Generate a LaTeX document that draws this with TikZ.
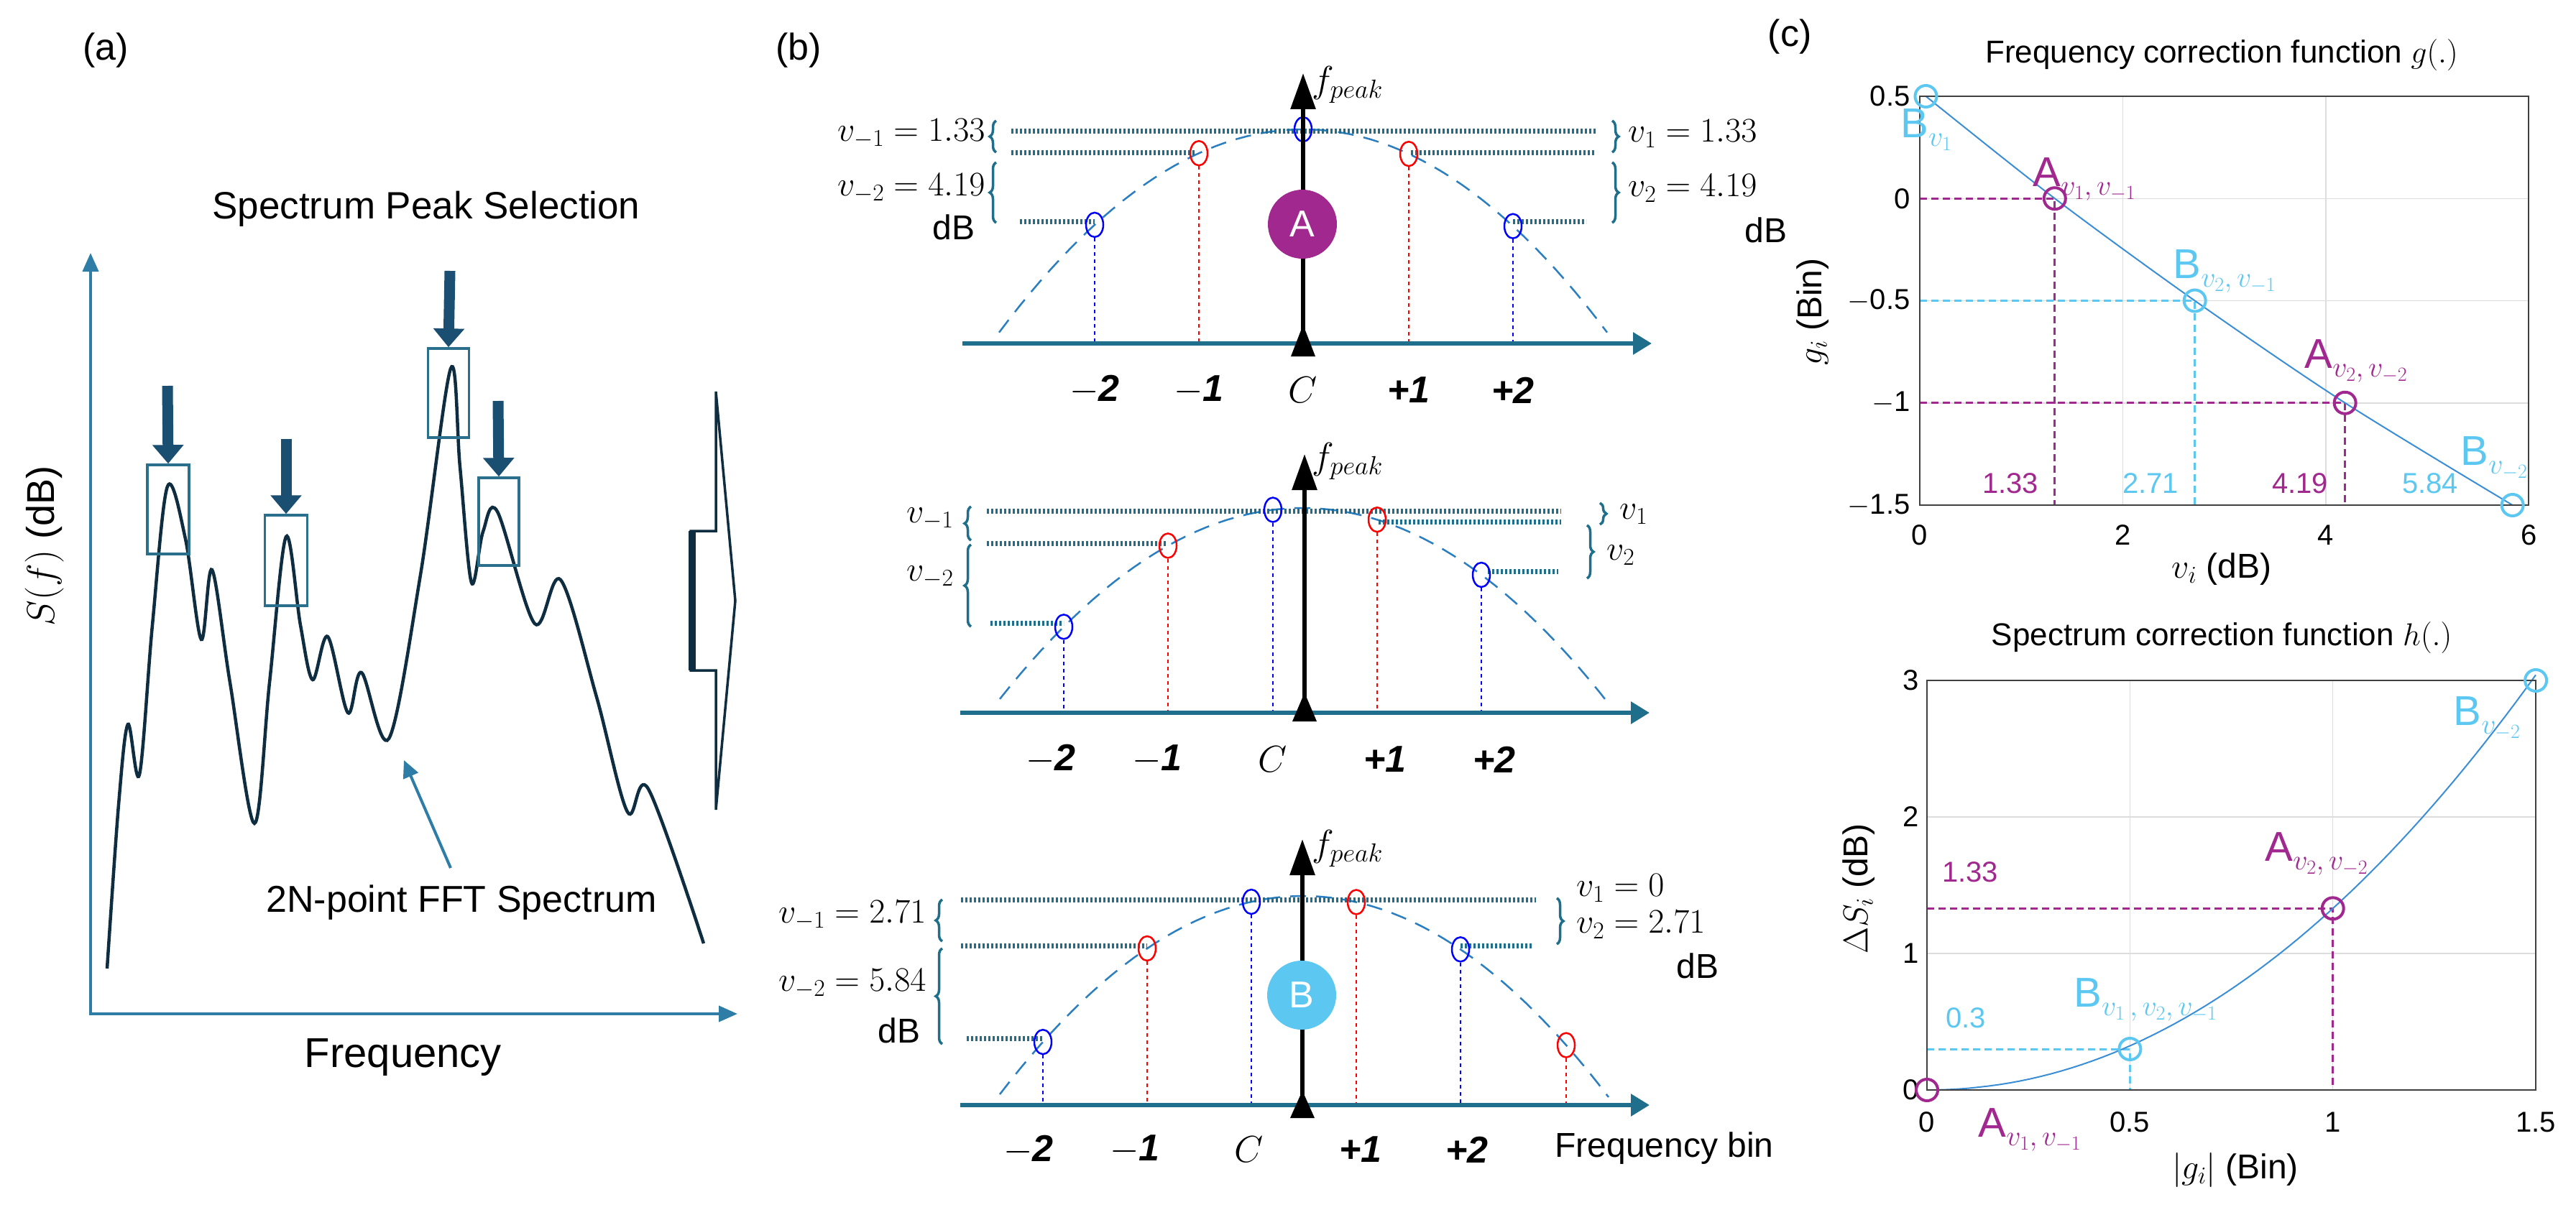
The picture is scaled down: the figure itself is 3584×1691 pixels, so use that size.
\RequirePackage{fix-cm}
\documentclass[tikz,border=0pt]{standalone}
\usepackage{fontspec}
\setmainfont{Liberation Sans}
\usetikzlibrary{arrows.meta,decorations.pathreplacing}
\definecolor{tealb}{HTML}{1F6E8C}
\definecolor{axa}{HTML}{2E7DA6}
\definecolor{navy}{HTML}{0F2D40}
\definecolor{boxc}{HTML}{2A6F8C}
\definecolor{arrd}{HTML}{1B4F72}
\definecolor{purp}{HTML}{A0288F}
\definecolor{cyanc}{HTML}{5CC8F2}
\definecolor{mblue}{HTML}{3B8ED6}
\definecolor{parab}{HTML}{2B7FC0}
\definecolor{gridc}{HTML}{DDDDDD}
\newcommand{\fs}[1]{\fontsize{#1}{#1}\selectfont}
\newcommand{\lsub}[1]{\raisebox{-12pt}{\fs{40}$#1$}}
\tikzset{
  axA/.style={line width=4pt,axa,-{Triangle[length=26pt,width=22pt]}},
  axB/.style={line width=6pt,tealb,-{Triangle[length=26pt,width=30pt]}},
  fpk/.style={line width=6pt,black,-{Triangle[length=50pt,width=34pt]}},
  pbox/.style={draw=boxc,line width=3.5pt},
  darr/.style={line width=15pt,arrd,-{Triangle[length=26pt,width=42pt]}},
  dotl/.style={tealb,line width=7pt,dash pattern=on 3pt off 3pt},
  brc/.style={tealb,line width=3.5pt,decorate,decoration={brace,amplitude=9pt}},
  pc/.style={parab,line width=2.5pt,dash pattern=on 22pt off 14pt},
  bc/.style={draw=blue,line width=2.5pt,ellipse,inner sep=0pt,minimum width=24pt,minimum height=34pt},
  vl/.style={line width=2pt,dash pattern=on 5pt off 5pt},
  bn/.style={font=\fs{52}\bfseries\itshape},
  lb/.style={font=\fs{48}},
  mk/.style={circle,draw,line width=4pt,minimum size=30pt,inner sep=0pt},
  ann/.style={font=\fs{58}},
  tk/.style={font=\fs{40}},
  ttl/.style={font=\fs{44}},
}
\usetikzlibrary{shapes.geometric}
\begin{document}
\begin{tikzpicture}[x=1pt,y=-1pt]
\useasboundingbox (0,0) rectangle (3584,1691);
\fill[white] (0,0) rectangle (3584,1691);
%% ---------------- panel (a)
\node[font=\fs{52}] (la) at (147,70) {(a)};
\node[font=\fs{53}] (sps) at (593,291) {Spectrum Peak Selection};
\coordinate (o) at (126,1411);
\coordinate (ytop) at (126,352);
\coordinate (xend) at (1026,1411);
\draw[axA] (o) -- (ytop);
\draw[axA] ([xshift=-2pt]o) -- (xend);
\node[font=\fs{54},rotate=90] (sy) at (62,760) {$S(f)$ (dB)};
\node[font=\fs{58}] (fq) at (561,1472) {Frequency};
\node[font=\fs{52}] (fft) at (642,1256) {2N-point FFT Spectrum};
\coordinate (fa1) at (627,1208);
\coordinate (fa2) at (562,1058);
\draw[axa,line width=4pt,-{Triangle[length=24pt,width=22pt]}] (fa1) -- (fa2);
\draw[navy,line width=4.5pt] plot[smooth,tension=0.55] coordinates {
(149,1348) (165,1120) (178,1008) (194,1078) (212,870) (233,677) (258,750) (280,890) (295,793) (320,950) (354,1146) (375,950) (398,747) (418,870) (435,946) (456,886) (484,992) (503,936) (541,1028) (585,800) (627,513) (640,650) (656,811) (672,740) (692,712) (744,868) (780,807) (830,970) (873,1130) (902,1098) (979,1313)};
\node[pbox,minimum width=58pt,minimum height=124pt] (b1) at (234,709) {};
\node[pbox,minimum width=59pt,minimum height=126pt] (b2) at (398,780) {};
\node[pbox,minimum width=57pt,minimum height=124pt] (b3) at (624,547) {};
\node[pbox,minimum width=56pt,minimum height=122pt] (b4) at (694,726) {};
\coordinate (a1) at (233,537); \coordinate (a2) at (398,611);
\coordinate (a3) at (626,377); \coordinate (a4) at (693,558);
\draw[darr] (a1) -- (b1.north);
\draw[darr] (a2) -- (b2.north);
\draw[darr] (a3) -- (b3.north);
\draw[darr] (a4) -- (b4.north);
\draw[navy,line width=3.5pt,line join=miter] (996,545) -- (1023,836) -- (996,1127) -- (996,933) -- (961,933) -- (961,739) -- (996,739) -- cycle;
\draw[navy,line width=10pt] (963,739) -- (963,933);
%% ---------------- panel (b)
\node[font=\fs{52}] (lbb) at (1111,70) {(b)};
% top
\draw[pc,domain=1390:2236,samples=60] plot (\x,{180+15.8*((\x-1813)/100)^2});
\draw[dotl] (1407,182) -- (2220,182);
\draw[dotl] (1407,212) -- (1664,212);
\draw[dotl] (1963,212) -- (2220,212);
\draw[dotl] (1419,308) -- (1523,308);
\draw[dotl] (2105,308) -- (2207,308);
\foreach \xx/\cc/\nm in {1523/blue/t1,1668/red/t2,1813/blue/t3,1960/red/t4,2105/blue/t5}{
  \pgfmathsetmacro\yy{180+15.8*((\xx-1813)/100)^2}
  \node[bc,draw=\cc] (\nm) at (\xx,\yy) {};
  \draw[vl,\cc] (\nm.south) -- (\xx,478);
}
\coordinate (tb0) at (1339,478); \coordinate (tb1) at (2298,478);
\draw[axB] (tb0) -- (tb1);
\coordinate (tf0) at (1813,490); \coordinate (tf1) at (1813,102);
\draw[fpk] (tf0) -- (tf1);
\fill (1813,452) -- (1830,496) -- (1796,496) -- cycle;
\node[circle,fill=purp,minimum size=96pt,text=white,font=\fs{52}] (cA) at (1812,312) {A};
\node[font=\fs{52},anchor=west] (fpt) at (1822,118) {$f_{peak}$};
\draw[brc] (1386,212) -- (1386,168);
\draw[brc] (1386,310) -- (1386,226);
\draw[brc] (2243,168) -- (2243,212);
\draw[brc] (2243,226) -- (2243,310);
\node[lb,anchor=east] (tl1) at (1374,186) {$v_{-1} = 1.33$};
\node[lb,anchor=east] (tl2) at (1374,262) {$v_{-2} = 4.19$};
\node[lb,anchor=east] (tl3) at (1360,316) {dB};
\node[lb,anchor=west] (tr1) at (2262,186) {$v_{1} = 1.33$};
\node[lb,anchor=west] (tr2) at (2262,262) {$v_{2} = 4.19$};
\node[lb,anchor=east] (tr3) at (2490,320) {dB};
\foreach \xx/\tt in {1523/$-$2,1668/$-$1,1960/+1,2105/+2}{\node[bn] at (\xx,543) {\tt};}
\node[font=\fs{52}] (tc) at (1813,543) {$C$};
% middle
\draw[pc,domain=1391:2238,samples=60] plot (\x,{707+15*((\x-1812)/100)^2});
\draw[dotl] (1373,711) -- (2172,711);
\draw[dotl] (1918,726) -- (2172,726);
\draw[dotl] (1373,756) -- (1623,756);
\draw[dotl] (1378,867) -- (1480,867);
\draw[dotl] (2070,795) -- (2168,795);
\foreach \xx/\cc/\nm in {1480/blue/m1,1625/red/m2,1771/blue/m3,1916/red/m4,2061/blue/m5}{
  \pgfmathsetmacro\yy{707+15*((\xx-1812)/100)^2}
  \node[bc,draw=\cc] (\nm) at (\xx,\yy) {};
  \draw[vl,\cc] (\nm.south) -- (\xx,992);
}
\coordinate (mb0) at (1336,992); \coordinate (mb1) at (2295,992);
\draw[axB] (mb0) -- (mb1);
\coordinate (mf0) at (1815,1000); \coordinate (mf1) at (1815,632);
\draw[fpk] (mf0) -- (mf1);
\fill (1815,964) -- (1832,1004) -- (1798,1004) -- cycle;
\node[font=\fs{52},anchor=west] (fpm) at (1822,642) {$f_{peak}$};
\draw[brc] (1351,752) -- (1351,705);
\draw[brc] (1351,872) -- (1351,758);
\draw[brc] (2226,700) -- (2226,730);
\draw[brc] (2208,731) -- (2208,805);
\node[lb,anchor=east] (ml1) at (1330,722) {$v_{-1}$};
\node[lb,anchor=east] (ml2) at (1330,803) {$v_{-2}$};
\node[lb,anchor=west] (mr1) at (2250,716) {$v_{1}$};
\node[lb,anchor=west] (mr2) at (2232,773) {$v_{2}$};
\foreach \xx/\tt in {1462/$-$2,1610/$-$1,1927/+1,2079/+2}{\node[bn] at (\xx,1057) {\tt};}
\node[font=\fs{52}] (mc) at (1771,1057) {$C$};
% bottom
\draw[pc,domain=1391:2238,samples=60] plot (\x,{1247+15.5*((\x-1813)/100)^2});
\draw[dotl] (1337,1252) -- (2137,1252);
\draw[dotl] (1337,1316) -- (1596,1316);
\draw[dotl] (2032,1316) -- (2132,1316);
\draw[dotl] (1345,1445) -- (1451,1445);
\foreach \xx/\cc/\nm in {1451/blue/u1,1596/red/u2,1741/blue/u3,1887/red/u4,2032/blue/u5,2179/red/u6}{
  \pgfmathsetmacro\yy{1247+15.5*((\xx-1813)/100)^2}
  \node[bc,draw=\cc] (\nm) at (\xx,\yy) {};
  \draw[vl,\cc] (\nm.south) -- (\xx,1538);
}
\coordinate (ub0) at (1336,1538); \coordinate (ub1) at (2295,1538);
\draw[axB] (ub0) -- (ub1);
\coordinate (uf0) at (1812,1548); \coordinate (uf1) at (1812,1168);
\draw[fpk] (uf0) -- (uf1);
\fill (1812,1518) -- (1829,1556) -- (1795,1556) -- cycle;
\node[circle,fill=cyanc,minimum size=96pt,text=white,font=\fs{52}] (cB) at (1811,1385) {B};
\node[font=\fs{52},anchor=west] (fpb) at (1822,1181) {$f_{peak}$};
\draw[brc] (1311,1310) -- (1311,1252);
\draw[brc] (1311,1453) -- (1311,1320);
\draw[brc] (2166,1250) -- (2166,1314);
\node[lb,anchor=east] (ul1) at (1292,1274) {$v_{-1} = 2.71$};
\node[lb,anchor=east] (ul2) at (1292,1369) {$v_{-2} = 5.84$};
\node[lb,anchor=east] (ul3) at (1284,1434) {dB};
\node[lb,anchor=west] (ur1) at (2190,1236) {$v_{1} = 0$};
\node[lb,anchor=west] (ur2) at (2190,1287) {$v_{2} = 2.71$};
\node[lb] (ur3) at (2362,1344) {dB};
\foreach \xx/\tt in {1431/$-$2,1579/$-$1,1893/+1,2041/+2}{\node[bn] at (\xx,1600) {\tt};}
\node[font=\fs{52}] (uc) at (1738,1600) {$C$};
\node[font=\fs{48},anchor=west] (fbin) at (2160,1598) {Frequency bin};
%% ---------------- panel (c)
\node[font=\fs{52}] (lc) at (2490,51) {(c)};
\node[ttl] (t1) at (3091,77) {Frequency correction function $g(.)$};
\begin{scope}[shift={(2671,276.25)},x=141.2pt,y=284.5pt]
  \foreach \v in {2,4} \draw[gridc,line width=1.5pt] (\v,-1.5) -- (\v,0.5);
  \foreach \g in {0,-0.5,-1} \draw[gridc,line width=1.5pt] (0,\g) -- (6,\g);
  \draw[purp,line width=3pt,dash pattern=on 10pt off 6pt] (0,0) -- (1.33,0) -- (1.33,-1.5);
  \draw[purp,line width=3pt,dash pattern=on 10pt off 6pt] (0,-1) -- (4.19,-1) -- (4.19,-1.5);
  \draw[cyanc,line width=3pt,dash pattern=on 10pt off 6pt] (0,-0.5) -- (2.71,-0.5) -- (2.71,-1.5);
  \draw[mblue,line width=2pt] plot[smooth] coordinates {(0.06,0.5) (1.33,0) (2.71,-0.5) (4.19,-1) (5.84,-1.5)};
  \draw[black!75,line width=2.5pt] (0,-1.5) rectangle (6,0.5);
  \foreach \v in {0,2,4,6} \node[tk] at (\v,-1.5) [yshift=-42pt] {\v};
  \foreach \g/\t in {0.5/0.5,0/0,-0.5/$-$0.5,-1/$-$1,-1.5/$-$1.5} \node[tk,anchor=east] at (0,\g) [xshift=-10pt] {\t};
  \node[mk,draw=cyanc] (p1) at (0.06,0.5) {};
  \node[mk,draw=purp] (p2) at (1.33,0) {};
  \node[mk,draw=cyanc] (p3) at (2.71,-0.5) {};
  \node[mk,draw=purp] (p4) at (4.19,-1) {};
  \node[mk,draw=cyanc] (p5) at (5.84,-1.5) {};
\end{scope}
\node[ann,text=cyanc] (q1) at (2680,181) {B\lsub{v_1}};
\node[ann,text=purp] (q2) at (2900,250) {A\lsub{v_1,v_{-1}}};
\node[ann,text=cyanc] (q3) at (3095,378) {B\lsub{v_2,v_{-1}}};
\node[ann,text=purp] (q4) at (3278,503) {A\lsub{v_2,v_{-2}}};
\node[ann,text=cyanc] (q5) at (3470,638) {B\lsub{v_{-2}}};
\node[tk,text=purp] (n1) at (2797,673) {1.33};
\node[tk,text=cyanc] (n2) at (2992,673) {2.71};
\node[tk,text=purp] (n3) at (3200,673) {4.19};
\node[tk,text=cyanc] (n4) at (3381,673) {5.84};
\node[font=\fs{48}] (xl1) at (3091,792) {$v_i$ (dB)};
\node[font=\fs{48},rotate=90] (yl1) at (2522,434) {$g_i$ (Bin)};
% plot 2
\node[ttl] (t2) at (3091,887) {Spectrum correction function $h(.)$};
\begin{scope}[shift={(2681,1517)},x=564.7pt,y=190pt]
  \foreach \v in {0.5,1} \draw[gridc,line width=1.5pt] (\v,0) -- (\v,3);
  \foreach \g in {1,2} \draw[gridc,line width=1.5pt] (0,\g) -- (1.5,\g);
  \draw[purp,line width=3pt,dash pattern=on 10pt off 6pt] (0,1.33) -- (1,1.33) -- (1,0);
  \draw[cyanc,line width=3pt,dash pattern=on 10pt off 6pt] (0,0.3) -- (0.5,0.3) -- (0.5,0);
  \draw[mblue,line width=2pt,domain=0:1.5,samples=60] plot (\x,{1.33*(\x)^2.04});
  \draw[black!75,line width=2.5pt] (0,0) rectangle (1.5,3);
  \foreach \v in {0,0.5,1,1.5} \node[tk] at (\v,0) [yshift=-45pt] {\v};
  \foreach \g in {0,1,2,3} \node[tk,anchor=east] at (0,\g) [xshift=-8pt] {\g};
  \node[mk,draw=purp] (r1) at (0,0) {};
  \node[mk,draw=cyanc] (r2) at (0.5,0.3) {};
  \node[mk,draw=purp] (r3) at (1,1.33) {};
  \node[mk,draw=cyanc] (r4) at (1.5,3) {};
\end{scope}
\node[ann,text=cyanc] (s1) at (3460,1000) {B\lsub{v_{-2}}};
\node[ann,text=purp] (s2) at (3223,1189) {A\lsub{v_2,v_{-2}}};
\node[tk,text=purp] (s3) at (2741,1214) {1.33};
\node[ann,text=cyanc] (s4) at (2985,1392) {B\lsub{v_1\,,v_2,v_{-1}}};
\node[tk,text=cyanc] (s5) at (2735,1417) {0.3};
\node[ann,text=purp] (s6) at (2824,1573) {A\lsub{v_1,v_{-1}}};
\node[font=\fs{48}] (xl2) at (3110,1628) {$|g_i|$ (Bin)};
\node[font=\fs{48},rotate=90] (yl2) at (2586,1237) {$\Delta S_i$ (dB)};
\end{tikzpicture}
\end{document}
